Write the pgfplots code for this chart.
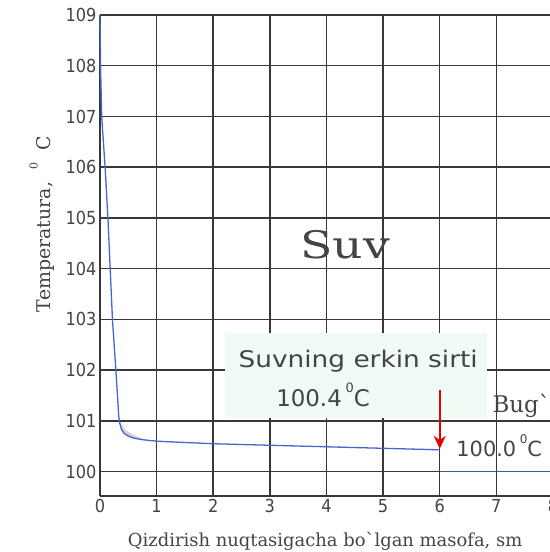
\documentclass[border=0pt]{standalone}
\usepackage{fontspec}
\setmainfont{DejaVu Serif}[Ligatures=TeXOff]
\newfontfamily\ticksf{DejaVu Sans Condensed}
\newfontfamily\annsf{DejaVu Sans}
\usepackage{pgfplots}
\pgfplotsset{compat=1.18}
\usetikzlibrary{arrows.meta}
\definecolor{curveblue}{HTML}{4A66CC}
\definecolor{lineblue}{HTML}{3A5AA8}
\definecolor{boxfill}{HTML}{F0FBF6}
\definecolor{gridc}{HTML}{383838}
\definecolor{txt}{HTML}{444444}
\begin{document}
\begin{tikzpicture}
\begin{axis}[
  scale only axis,
  width=453bp, height=481bp,
  xmin=0, xmax=8, ymin=99.52, ymax=109,
  axis lines=left,
  axis line style={-, gridc, line width=1.5bp},
  xtick={0,1,2,3,4,5,6,7,8},
  ytick={100,101,102,103,104,105,106,107,108,109},
  grid=major,
  grid style={gridc, line width=1.5bp},
  major tick length=0pt,
  /pgf/number format/assume math mode=true,
  ticklabel style={font=\ticksf\fontsize{18}{18}\selectfont, text=txt},
  xlabel={Qizdirish nuqtasigacha bo`lgan masofa, sm},
  xlabel style={font=\fontsize{18}{18}\selectfont, text=txt, at={(axis description cs:0.497,-0.094)}, anchor=center},
  ylabel={Temperatura,\ \ \raisebox{1.3ex}{\fontsize{11}{11}\selectfont 0}\ \ C},
  ylabel style={font=\fontsize{19}{19}\selectfont, text=txt, at={(axis description cs:-0.128,0.565)}, anchor=center},
  clip=false,
]
% annotation box
\addplot[fill=boxfill, draw=none] coordinates {(2.2,101.06) (6.83,101.06) (6.83,102.73) (2.2,102.73)} -- cycle;
% gray shading at bend
\addplot[fill=gray!35, draw=none] coordinates {(0.34,101.0) (0.38,100.83) (0.45,100.74) (0.6,100.66) (0.8,100.62) (0.6,100.72) (0.45,100.82)} -- cycle;
% main curve
\addplot[curveblue, line width=1.3bp, line join=round] coordinates {
(0,109) (0.005,108.5) (0.01,108) (0.03,107) (0.09,106) (0.14,105) (0.18,104) (0.22,103) (0.28,102) (0.32,101.3) (0.33,101.1) (0.35,100.95) (0.38,100.83) (0.42,100.76) (0.5,100.7) (0.6,100.66) (0.75,100.63) (1,100.6) (2,100.55) (3,100.52) (4,100.49) (5,100.46) (6,100.43)};
% steam line
\addplot[lineblue, line width=1.5bp] coordinates {(6,100) (8.1,100)};
\draw[red!90!black, line width=1.6bp, -{Stealth[length=13bp,width=12bp]}] (axis cs:6,101.6) -- (axis cs:6,100.45);
\node[font=\fontsize{38}{38}\selectfont, text=txt, xscale=1.25] at (axis cs:4.33,104.47) {Suv};
\node[font=\annsf\fontsize{23}{23}\selectfont, text=txt, xscale=1.15] at (axis cs:4.56,102.18) {Suvning erkin sirti};
\node[font=\annsf\fontsize{23}{23}\selectfont, text=txt] at (axis cs:3.94,101.52) {100.4\,\raisebox{1.1ex}{\fontsize{13}{13}\selectfont 0}C};
\node[font=\annsf\fontsize{21}{21}\selectfont, text=txt] at (axis cs:7.05,100.51) {100.0\,\raisebox{1.1ex}{\fontsize{12}{12}\selectfont 0}C};
\node[font=\fontsize{23}{23}\selectfont, text=txt, anchor=west, inner sep=0pt] at (axis cs:6.93,101.3) {Bug`};
\end{axis}
\pgfresetboundingbox
\path[use as bounding box] ([xshift=-100bp,yshift=-56bp]current axis.south west) rectangle ([xshift=-3bp,yshift=15bp]current axis.north east);
\end{tikzpicture}
\end{document}
